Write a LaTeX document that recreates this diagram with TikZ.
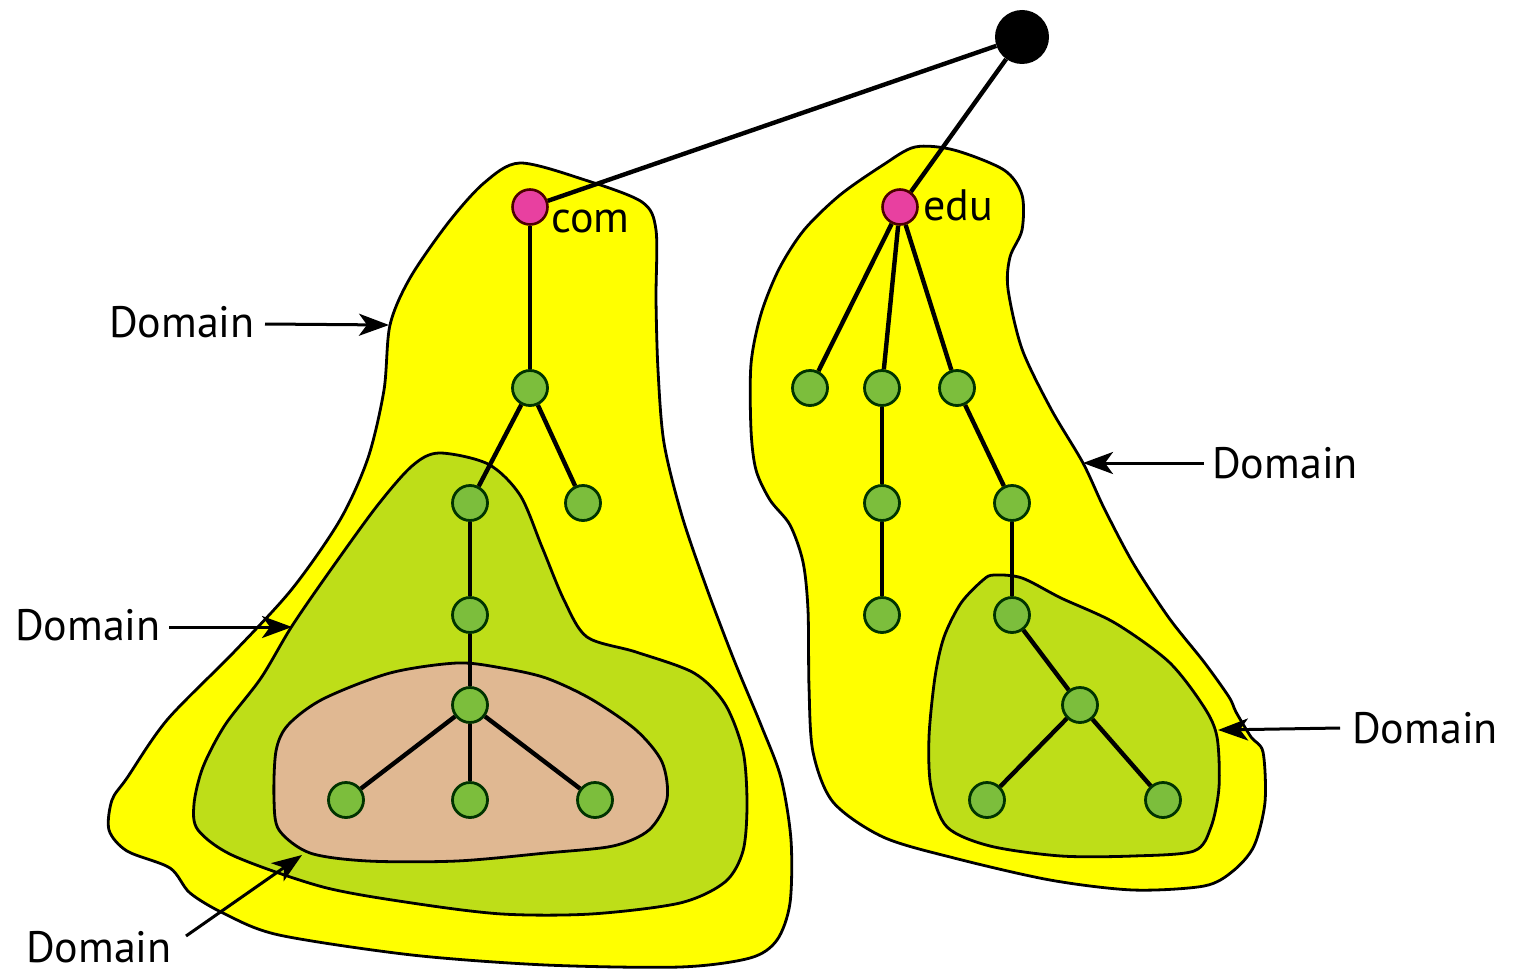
\documentclass[tikz,border=0pt]{standalone}
\usepackage{fontspec}
\setmainfont{PT Sans}
\usetikzlibrary{arrows.meta}
\definecolor{blobyellow}{RGB}{255,255,0}
\definecolor{blobgreen}{RGB}{190,222,24}
\definecolor{blobtan}{RGB}{224,184,146}
\definecolor{nodegreen}{RGB}{124,190,60}
\definecolor{nodepink}{RGB}{232,64,160}
\tikzset{
  blob/.style={draw=black, line width=2.8pt},
  tnode/.style={circle, draw=black!80!green, line width=2.8pt, fill=nodegreen, minimum size=35pt, inner sep=0pt},
  pnode/.style={circle, draw=black!70!red, line width=2.6pt, fill=nodepink, minimum size=35pt, inner sep=0pt},
  edge/.style={line width=4.4pt, black},
  lbl/.style={font=\fontsize{44}{48}\selectfont, inner sep=2pt},
  arr/.style={line width=3pt, -{Stealth[length=30pt,width=22pt,inset=8pt]}},
}
\begin{document}
\begin{tikzpicture}[x=1pt,y=-1pt]
\useasboundingbox (0,0) rectangle (1514,974);
% left yellow
\draw[blob, fill=blobyellow] plot[smooth cycle, tension=0.5] coordinates {
(520,163) (585,180) (642,202) (656,230) (656,300) (658,370) (664,443) (682,516) (707,589) (734,660) (761,725) (781,778) (791,840) (790,903) (777,940) (750,958) (680,967) (546,965) (412,955) (279,935) (225,914) (190,893) (170,868) (127,851) (109,830) (112,800) (127,778) (167,720) (234,652) (292,589) (340,520) (368,458) (384,390) (390,325) (410,278) (448,223) (484,183)};
% left green
\draw[blob, fill=blobgreen] plot[smooth cycle, tension=0.5] coordinates {
(439,453) (488,464) (520,495) (542,547) (564,600) (587,637) (636,652) (694,673) (725,704) (743,751) (747,804) (743,851) (725,882) (680,903) (591,914) (502,914) (412,903) (323,887) (234,856) (198,830) (194,804) (203,767) (225,725) (261,678) (292,626) (332,568) (377,506) (412,466)};
% tan
\draw[blob, fill=blobtan] plot[smooth cycle, tension=0.5] coordinates {
(457,663) (502,668) (546,678) (591,699) (636,730) (662,762) (667,799) (649,830) (613,846) (546,853) (457,861) (368,861) (310,853) (279,830) (274,799) (276,751) (288,725) (323,699) (390,673)};
% right yellow
\draw[blob, fill=blobyellow] plot[smooth cycle, tension=0.5] coordinates {
(915,147) (954,150) (1004,170) (1022,195) (1022,230) (1010,257) (1008,289) (1022,349) (1051,409) (1083,463) (1104,508) (1133,563) (1169,618) (1204,662) (1229,697) (1236,712) (1251,737) (1263,752) (1265,802) (1254,846) (1233,871) (1204,886) (1133,890) (1050,880) (954,858) (883,837) (833,802) (813,752) (809,687) (808,610) (803,562) (790,525) (770,500) (756,470) (751,430) (751,364) (761,314) (779,269) (804,230) (840,195) (883,165)};
% right green
\draw[blob, fill=blobgreen] plot[smooth cycle, tension=0.5] coordinates {
(994,575) (1022,578) (1061,598) (1115,623) (1169,662) (1204,707) (1217,737) (1219,787) (1211,827) (1194,851) (1133,856) (1061,856) (990,846) (947,827) (931,787) (929,737) (935,677) (944,637) (961,603) (983,580)};

% nodes
\node[circle, fill=black, minimum size=54pt, inner sep=0pt] (root) at (1022,37) {};
\node[pnode] (com) at (530,207) {};
\node[pnode] (edu) at (900,207) {};
\node[tnode] (c1) at (530,388) {};
\node[tnode] (c2) at (470,503) {};
\node[tnode] (c3) at (583,503) {};
\node[tnode] (c4) at (470,615) {};
\node[tnode] (c5) at (470,705) {};
\node[tnode] (c6) at (346,800) {};
\node[tnode] (c7) at (470,800) {};
\node[tnode] (c8) at (595,800) {};
\node[tnode] (e1) at (810,388) {};
\node[tnode] (e2) at (882,388) {};
\node[tnode] (e3) at (957,388) {};
\node[tnode] (e4) at (882,503) {};
\node[tnode] (e5) at (1012,503) {};
\node[tnode] (e6) at (882,615) {};
\node[tnode] (e7) at (1012,615) {};
\node[tnode] (e8) at (1080,705) {};
\node[tnode] (e9) at (987,800) {};
\node[tnode] (e10) at (1163,800) {};

% edges
\draw[edge] (root) -- (com);
\draw[edge] (root) -- (edu);
\draw[edge] (com) -- (c1);
\draw[edge] (c1) -- (c2);
\draw[edge] (c1) -- (c3);
\draw[edge] (c2) -- (c4);
\draw[edge] (c4) -- (c5);
\draw[edge] (c5) -- (c6);
\draw[edge] (c5) -- (c7);
\draw[edge] (c5) -- (c8);
\draw[edge] (edu) -- (e1);
\draw[edge] (edu) -- (e2);
\draw[edge] (edu) -- (e3);
\draw[edge] (e2) -- (e4);
\draw[edge] (e4) -- (e6);
\draw[edge] (e3) -- (e5);
\draw[edge] (e5) -- (e7);
\draw[edge] (e7) -- (e8);
\draw[edge] (e8) -- (e9);
\draw[edge] (e8) -- (e10);

% labels
\node[lbl, anchor=west] (lcom) at (549,221) {com};
\node[lbl, anchor=west] (ledu) at (921,205) {edu};

\node[lbl, anchor=east] (d1) at (257,322) {Domain};
\node[lbl, anchor=east] (d2) at (163,625) {Domain};
\node[lbl, anchor=base east] (d3) at (174,962) {Domain};
\node[lbl, anchor=west] (d4) at (1210,463) {Domain};
\node[lbl, anchor=west] (d5) at (1350,728) {Domain};

\coordinate (t1) at (389,325);
\coordinate (t2) at (292,627);
\coordinate (t3) at (302,855);
\coordinate (t4) at (1083,463);
\coordinate (t5) at (1218,730);

\draw[arr] (d1.east) ++(8,2) -- (t1);
\draw[arr] (d2.east) ++(6,2) -- (t2);
\draw[arr] (186,936) -- (t3);
\draw[arr] (d4.west) ++(-6,0) -- (t4);
\draw[arr] (d5.west) ++(-10,0) -- (t5);
\end{tikzpicture}
\end{document}
